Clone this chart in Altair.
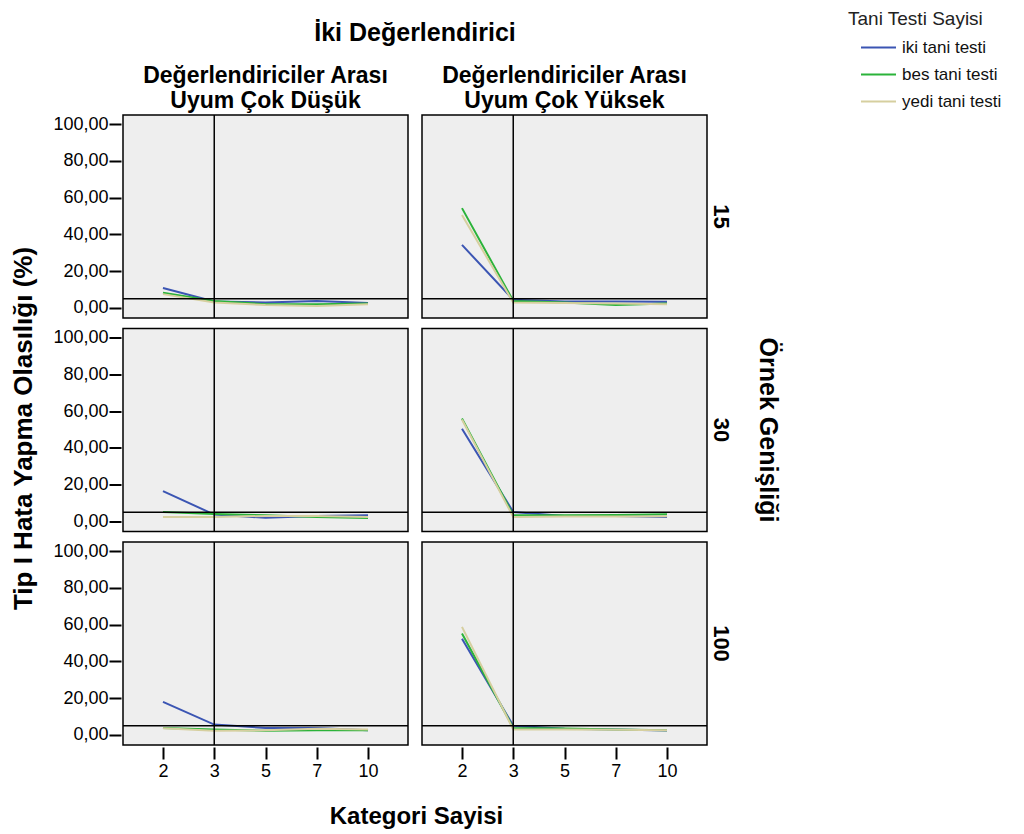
import altair as alt
import pandas as pd

kategori = ["2", "3", "5", "7", "10"]
orneklem = ["15", "30", "100"]
uyum = ["Değerlendiriciler Arası|Uyum Çok Düşük", "Değerlendiriciler Arası|Uyum Çok Yüksek"]
seriler = ["iki tani testi", "bes tani testi", "yedi tani testi"]
renkler = ["#3b55b3", "#2bb33a", "#d6cf9f"]

# values (%), order: kategori 2, 3, 5, 7, 10
n15_dusuk_iki = [10.8, 3.5, 2.9, 3.8, 2.7]
n15_dusuk_bes = [8.2, 3.8, 2.0, 2.0, 2.4]
n15_dusuk_yedi = [7.5, 2.9, 1.6, 1.1, 2.0]
n15_yuksek_iki = [34.3, 4.4, 3.5, 3.5, 3.3]
n15_yuksek_bes = [54.3, 3.8, 2.9, 1.6, 2.4]
n15_yuksek_yedi = [50.6, 2.9, 2.6, 2.4, 2.0]
n30_dusuk_iki = [16.5, 3.7, 2.0, 3.0, 3.3]
n30_dusuk_bes = [5.1, 4.0, 3.3, 2.4, 1.8]
n30_dusuk_yedi = [2.4, 2.4, 3.0, 3.0, 2.4]
n30_yuksek_iki = [50.4, 5.1, 3.0, 3.0, 2.4]
n30_yuksek_bes = [56.0, 3.3, 3.3, 3.5, 3.9]
n30_yuksek_yedi = [55.5, 2.4, 2.6, 2.6, 2.8]
n100_dusuk_iki = [18.0, 5.6, 3.8, 3.8, 2.5]
n100_dusuk_bes = [3.8, 3.0, 2.2, 2.5, 2.5]
n100_dusuk_yedi = [3.6, 2.2, 2.5, 3.3, 3.0]
n100_yuksek_iki = [52.3, 5.0, 3.3, 3.0, 2.4]
n100_yuksek_bes = [55.2, 3.8, 3.5, 3.0, 2.5]
n100_yuksek_yedi = [58.8, 3.0, 3.0, 2.8, 2.5]

veri = {
    ("15", 0): [n15_dusuk_iki, n15_dusuk_bes, n15_dusuk_yedi],
    ("15", 1): [n15_yuksek_iki, n15_yuksek_bes, n15_yuksek_yedi],
    ("30", 0): [n30_dusuk_iki, n30_dusuk_bes, n30_dusuk_yedi],
    ("30", 1): [n30_yuksek_iki, n30_yuksek_bes, n30_yuksek_yedi],
    ("100", 0): [n100_dusuk_iki, n100_dusuk_bes, n100_dusuk_yedi],
    ("100", 1): [n100_yuksek_iki, n100_yuksek_bes, n100_yuksek_yedi],
}

rows = []
for (n, u), listeler in veri.items():
    for s, degerler in zip(seriler, listeler):
        for k, v in zip(kategori, degerler):
            rows.append({"orneklem": n, "uyum": uyum[u], "seri": s, "kategori": k, "deger": v})
df = pd.DataFrame(rows)

FONT = "Liberation Sans"

x = alt.X(
    "kategori:O", sort=kategori,
    scale=alt.Scale(type="point", padding=0.78),
    axis=alt.Axis(title=None, labelAngle=0, tickSize=12, labelPadding=3),
)
y = alt.Y(
    "deger:Q",
    scale=alt.Scale(domain=[-5.5, 105], nice=False, zero=False),
    axis=alt.Axis(
        title=None,
        values=[0, 20, 40, 60, 80, 100],
        labelExpr="replace(format(datum.value, '.2f'), '.', ',')",
        tickSize=12, labelPadding=1,
    ),
)

base = alt.Chart()
lines = base.mark_line(strokeWidth=2).encode(
    x=x, y=y,
    color=alt.Color(
        "seri:N", sort=seriler,
        scale=alt.Scale(domain=seriler, range=renkler),
        legend=alt.Legend(
            title="Tani Testi Sayisi", orient="none", legendX=725, legendY=-105,
            symbolType="stroke", symbolSize=1225, symbolStrokeWidth=2, symbolOffset=12,
            titleFontSize=19, titleFontWeight="normal", titleColor="#222222",
            labelFontSize=17, labelColor="#111111", rowPadding=-15, titlePadding=0,
            labelOffset=5,
        ),
    ),
)
hrule = base.mark_rule(color="black", strokeWidth=1.5).encode(y=alt.datum(5)).transform_filter(
    "datum.seri == 'iki tani testi' && datum.kategori == '2'")
vrule = base.mark_rule(color="black", strokeWidth=1.5).encode(x=alt.datum("3")).transform_filter(
    "datum.seri == 'iki tani testi' && datum.kategori == '2'")

inner = alt.layer(lines, hrule, vrule, data=df).properties(width=285, height=203).facet(
    row=alt.Row(
        "orneklem:N", sort=orneklem,
        header=alt.Header(
            title="Örnek Genişliği", titleOrient="right", labelOrient="right",
            labelAngle=90, titleAngle=90, labelFontSize=22, labelFontWeight="bold",
            titleFontSize=25, titleFontWeight="bold", labelPadding=0, titlePadding=13,
            labelFont=FONT, titleFont=FONT, labelColor="black", titleColor="black",
        ),
    ),
    column=alt.Column(
        "uyum:N", sort=uyum,
        header=alt.Header(
            title="İki Değerlendirici", labelExpr="split(datum.value, '|')",
            labelFontSize=23, labelFontWeight="bold", titleFontSize=25, titleFontWeight="bold",
            labelLineHeight=25, labelPadding=0, titlePadding=9,
            labelFont=FONT, titleFont=FONT, labelColor="black", titleColor="black",
        ),
    ),
    spacing={"row": 6.5, "column": 10},
).properties(
    title=alt.TitleParams(
        text="Kategori Sayisi", orient="bottom", anchor="middle", offset=25,
        font=FONT, fontSize=24, fontWeight="bold", color="black",
    )
)

chart = alt.vconcat(inner).properties(
    title=alt.TitleParams(
        text="Tip I Hata Yapma Olasılığı (%)", orient="left", anchor="middle", offset=16,
        dx=-9, font=FONT, fontSize=26, fontWeight="bold", color="black",
    ),
    padding={"left": 2, "top": 2, "right": 2, "bottom": 0},
).configure_view(
    fill="#eeeeee", stroke="black", strokeWidth=1.5,
).configure_axis(
    domain=False, grid=False, tickColor="black", tickWidth=2,
    labelFont=FONT, labelFontSize=18, labelColor="black",
).configure_legend(
    labelFont=FONT, titleFont=FONT,
)

chart.save("out.html", embed_options={"renderer": "svg", "actions": False})
